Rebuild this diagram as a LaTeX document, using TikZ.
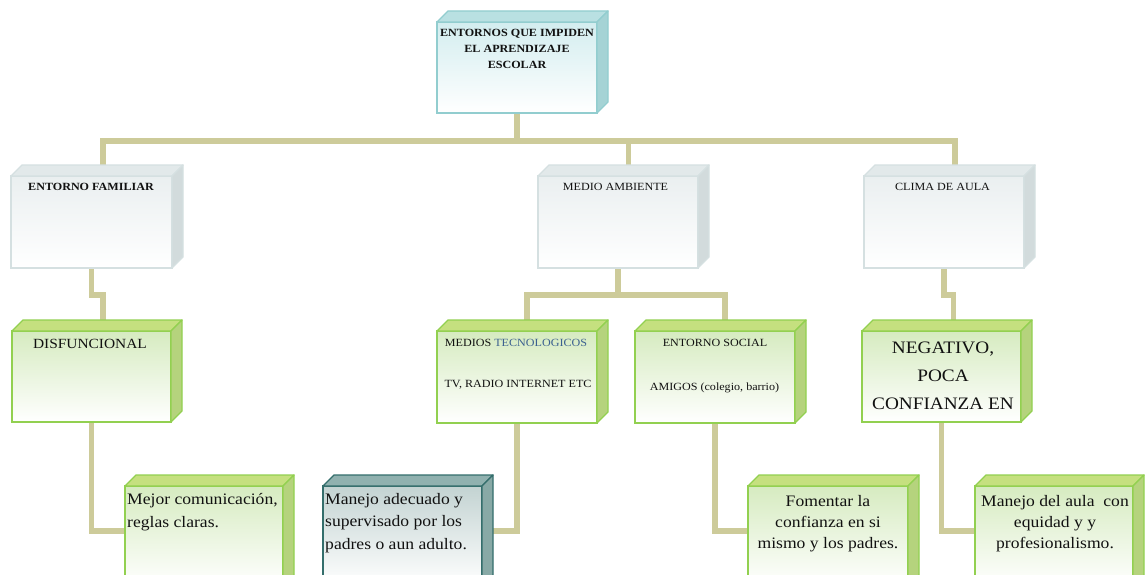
\documentclass[tikz,border=0pt]{standalone}
\usepackage{fontspec}
\setmainfont{Liberation Serif}[FakeStretch=1.1]
\usetikzlibrary{backgrounds}
\definecolor{conncol}{HTML}{CDCB9A}
\definecolor{grayB}{HTML}{D5E0E1}
\definecolor{grayF}{HTML}{EAEFF0}
\definecolor{grayT}{HTML}{E2E9EA}
\definecolor{grayS}{HTML}{D2DBDC}
\definecolor{cyanB}{HTML}{92CDCF}
\definecolor{cyanF}{HTML}{D3EDEF}
\definecolor{cyanT}{HTML}{B9E0E2}
\definecolor{cyanS}{HTML}{A5D3D5}
\definecolor{grnB}{HTML}{92D050}
\definecolor{grnF}{HTML}{D6EBC0}
\definecolor{grnT}{HTML}{C5E07F}
\definecolor{grnS}{HTML}{B5D37D}
\definecolor{tealB}{HTML}{346E6C}
\definecolor{tealF}{HTML}{C3D3D2}
\definecolor{tealT}{HTML}{90B1AF}
\definecolor{tealS}{HTML}{88A9A6}
\definecolor{bluetxt}{HTML}{3C6190}
\definecolor{txtcol}{HTML}{111111}
\newcommand\mkbox[6]{%
  \node[#2, minimum width={#5-#3}, minimum height={#6-#4}] (#1) at ({(#3+#5)/2},{(#4+#6)/2}) {};}
\newcommand\mkfaces[4]{%
  \filldraw[fill=#2, draw=#4, face] (#1.north west) -- ([shift={(11,-11)}]#1.north west) -- ([shift={(11,-11)}]#1.north east) -- (#1.north east) -- cycle;
  \filldraw[fill=#3, draw=#4, face] (#1.north east) -- ([shift={(11,-11)}]#1.north east) -- ([shift={(11,-11)}]#1.south east) -- (#1.south east) -- cycle;}
\begin{document}
\begin{tikzpicture}[x=1pt,y=-1pt,
  face/.style={line width=1.3pt, line join=round},
  basebox/.style={rectangle, inner sep=0pt, outer sep=0pt, line width=1.3pt},
  graybox/.style={basebox, draw=grayB, top color=grayF, bottom color=white},
  cyanbox/.style={basebox, draw=cyanB, top color=cyanF, bottom color=white},
  grnbox/.style={basebox, draw=grnB, line width=1.8pt, top color=grnF, bottom color=white},
  tealbox/.style={basebox, draw=tealB, line width=1.8pt, top color=tealF, bottom color=white},
  conn/.style={draw=conncol, line width=5.5pt},
  txt/.style={inner sep=0pt, text=txtcol},
  lbl/.style={txt, font=\fontsize{11}{14}\selectfont, anchor=base},
  big/.style={txt, font=\fontsize{16}{22.5}\selectfont},
  bigc/.style={txt, font=\fontsize{16}{21}\selectfont}]
\useasboundingbox (0,0) rectangle (1145,575);
\clip (0,0) rectangle (1145,575);
% boxes (front faces)
\mkbox{top}{cyanbox}{437}{22}{597}{113}
\mkbox{fam}{graybox}{11}{176}{172}{268}
\mkbox{med}{graybox}{538}{176}{698}{268}
\mkbox{cli}{graybox}{864}{176}{1024}{268}
\mkbox{disf}{grnbox}{12}{331}{171}{422}
\mkbox{tec}{grnbox}{437}{331}{597}{423}
\mkbox{soc}{grnbox}{635}{331}{795}{423}
\mkbox{neg}{grnbox}{862}{331}{1021}{422}
\mkbox{mejor}{grnbox}{125}{486}{283}{586}
\mkbox{manejo}{tealbox}{323}{486}{482}{586}
\mkbox{foment}{grnbox}{748}{486}{908}{586}
\mkbox{aula}{grnbox}{975}{486}{1133}{586}
% 3-D faces
\mkfaces{top}{cyanT}{cyanS}{cyanB}
\mkfaces{fam}{grayT}{grayS}{grayB}
\mkfaces{med}{grayT}{grayS}{grayB}
\mkfaces{cli}{grayT}{grayS}{grayB}
\mkfaces{disf}{grnT}{grnS}{grnB}
\mkfaces{tec}{grnT}{grnS}{grnB}
\mkfaces{soc}{grnT}{grnS}{grnB}
\mkfaces{neg}{grnT}{grnS}{grnB}
\mkfaces{mejor}{grnT}{grnS}{grnB}
\mkfaces{manejo}{tealT}{tealS}{tealB}
\mkfaces{foment}{grnT}{grnS}{grnB}
\mkfaces{aula}{grnT}{grnS}{grnB}
% connectors
\begin{pgfonlayer}{background}
  \fill[white] (0,0) rectangle (1145,575);
  \coordinate (bus) at (517,141);
  \coordinate (medin) at ([xshift=10.5]med.north);
  \draw[conn] (top.south) -- (bus);
  \draw[conn] ([xshift=11.5]fam.north) |- (bus) -| ([xshift=11]cli.north);
  \draw[conn] (bus -| medin) -- (medin);
  \draw[conn] (fam.south) -- ++(0,27) -| ([xshift=11.5]disf.north);
  \path (med.south) ++(0,27) coordinate (mj);
  \draw[conn] (med.south) -- (mj);
  \draw[conn] ([xshift=10]tec.north) |- (mj) -| ([xshift=10]soc.north);
  \draw[conn] (cli.south) -- ++(0,27) -| ([xshift=12]neg.north);
  \draw[conn] (disf.south) |- ([yshift=5]mejor.west);
  \draw[conn] (tec.south) |- ([yshift=5]manejo.east);
  \draw[conn] (soc.south) |- ([yshift=5]foment.west);
  \draw[conn] (neg.south) |- ([yshift=5]aula.west);
\end{pgfonlayer}
% texts (multi-line nodes: base = baseline of last line)
\node[txt, font=\bfseries\fontsize{11}{16}\selectfont, align=center, anchor=base] (t0) at (517,69) {ENTORNOS QUE IMPIDEN\\EL APRENDIZAJE\\ESCOLAR};
\node[lbl, font=\bfseries\fontsize{11}{14}\selectfont] (t1) at (91,190) {ENTORNO FAMILIAR};
\node[lbl] (t2) at (615.5,190) {MEDIO AMBIENTE};
\node[lbl] (t3) at (942.5,190) {CLIMA DE AULA};
\node[txt, font=\fontsize{14}{16}\selectfont, anchor=base] (t4) at (90,348) {DISFUNCIONAL};
\node[lbl] (t5) at (516,346) {MEDIOS \textcolor{bluetxt}{TECNOLOGICOS}};
\node[lbl] (t6) at (518,387) {TV, RADIO INTERNET ETC};
\node[lbl] (t7) at (715,346) {ENTORNO SOCIAL};
\node[lbl] (t8) at (714.5,390) {AMIGOS (colegio, barrio)};
\node[txt, font=\fontsize{17.5}{28}\selectfont, align=center, anchor=base] (t9) at (943,409) {NEGATIVO,\\POCA\\CONFIANZA EN};
\node[big, align=left, anchor=base west] (t10) at (127,527) {Mejor comunicación,\\reglas claras.};
\node[big, align=left, anchor=base west] (t11) at (325,549) {Manejo adecuado y\\supervisado por los\\padres o aun adulto.};
\node[bigc, align=center, anchor=base] (t12) at (828,548) {Fomentar la\\confianza en si\\mismo y los padres.};
\node[bigc, align=center, anchor=base] (t13) at (1055,548) {Manejo del aula~ con\\equidad y y\\profesionalismo.};
\end{tikzpicture}
\end{document}
